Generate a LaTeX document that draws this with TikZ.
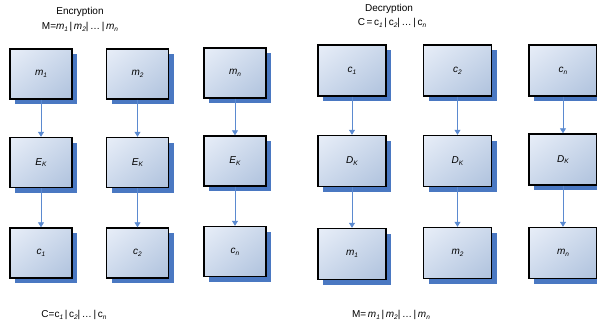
\documentclass[tikz,border=0pt]{standalone}
\usepackage{fontspec}
\setmainfont{Liberation Sans}
\usetikzlibrary{shadows,shadings,arrows.meta}
\definecolor{shad}{HTML}{4A78C2}
\definecolor{arr}{HTML}{5B8AD0}
\definecolor{tl}{HTML}{E8EEF8}
\definecolor{br}{HTML}{AFC2DD}
\definecolor{mid}{HTML}{CBD8EB}
\newcommand\sbs[1]{\raisebox{-0.35ex}{\fontsize{6.5}{6.5}\selectfont\itshape #1}}
\begin{document}
\begin{tikzpicture}[x=1pt,y=-1pt, font=\fontsize{10}{12}\selectfont,
 blk/.style={draw=black, line width=1.4pt, minimum width=62pt, minimum height=50pt, inner sep=0pt,
   upper left=tl, lower right=br, upper right=mid, lower left=mid,
   drop shadow={shadow xshift=5pt, shadow yshift=-5pt, fill=shad, opacity=1, draw=none}},
 dblk/.style={blk, minimum width=68pt, minimum height=51pt},
 lbl/.style={inner sep=1pt},
 conn/.style={draw=arr, line width=0.8pt, -{Triangle[length=5pt,width=6pt]}}]
\useasboundingbox (0,0) rectangle (597,324);
% Encryption
\node[lbl] (enct) at (80,12) {Encryption};
\node[lbl] (encm) at (80,27) {M=\textit{m}\sbs{1}\,|\,\textit{m}\sbs{2}|\,\dots\,|\,\textit{m}\sbs{n}};
\node[blk] (em1) at (41,74) {\textit{m}\sbs{1}};
\node[blk] (em2) at (137.5,74) {\textit{m}\sbs{2}};
\node[blk] (em3) at (235,73) {\textit{m}\sbs{n}};
\node[blk] (ee1) at (41,162.5) {\textit{E}\sbs{K}};
\node[blk] (ee2) at (137.5,162.5) {\textit{E}\sbs{K}};
\node[blk] (ee3) at (235,161) {\textit{E}\sbs{K}};
\node[blk] (ec1) at (41,253) {\textit{c}\sbs{1}};
\node[blk] (ec2) at (137.5,253) {\textit{c}\sbs{2}};
\node[blk] (ec3) at (235,251.5) {\textit{c}\sbs{n}};
\node[lbl] (encc) at (74,315) {C=c\sbs{1}\,|\,c\sbs{2}|\,\dots\,|\,c\sbs{n}};
% Decryption
\node[lbl] (dect) at (389,9) {Decryption};
\node[lbl] (decc) at (392,23) {C\,=\,c\sbs{1}\,|\,c\sbs{2}|\,\dots\,|\,c\sbs{n}};
\node[dblk] (dc1) at (352,70.5) {\textit{c}\sbs{1}};
\node[dblk] (dc2) at (457.5,70.5) {\textit{c}\sbs{2}};
\node[dblk] (dc3) at (563,70.5) {\textit{c}\sbs{n}};
\node[dblk] (dd1) at (352,161) {\textit{D}\sbs{K}};
\node[dblk] (dd2) at (457.5,161) {\textit{D}\sbs{K}};
\node[dblk] (dd3) at (563,159.5) {\textit{D}\sbs{K}};
\node[dblk] (dm1) at (352,254) {\textit{m}\sbs{1}};
\node[dblk] (dm2) at (457.5,253) {\textit{m}\sbs{2}};
\node[dblk] (dm3) at (563,253) {\textit{m}\sbs{n}};
\node[lbl] (decm) at (391,315) {M=\,\textit{m}\sbs{1}\,|\,\textit{m}\sbs{2}|\,\dots\,|\,\textit{m}\sbs{n}};
% connectors
\foreach \a/\b in {em1/ee1,em2/ee2,em3/ee3,ee1/ec1,ee2/ec2,ee3/ec3,dc1/dd1,dc2/dd2,dc3/dd3,dd1/dm1,dd2/dm2,dd3/dm3}
  \draw[conn] (\a.south) -- (\b.north);
\end{tikzpicture}
\end{document}
